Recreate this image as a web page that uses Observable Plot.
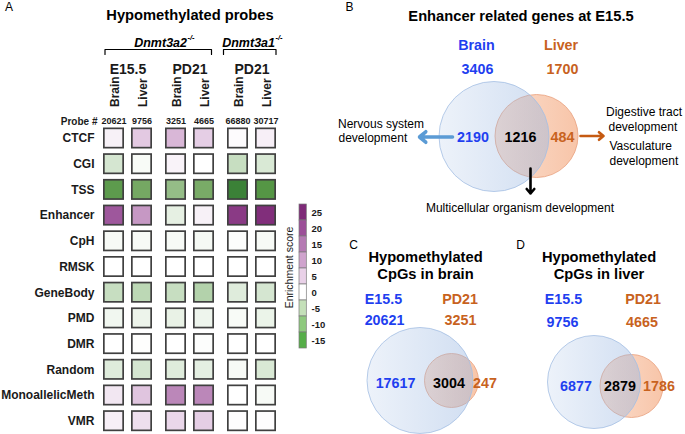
<!DOCTYPE html>
<html><head><meta charset="utf-8">
<script src="https://cdn.jsdelivr.net/npm/d3@7"></script>
<script src="https://cdn.jsdelivr.net/npm/@observablehq/plot@0.6"></script>
<style>
html,body{margin:0;padding:0;background:#fff;}
#root{position:relative;width:685px;height:434px;overflow:hidden;font-family:"Liberation Sans",Arial,Helvetica,sans-serif;}
#root > svg{position:absolute;}
</style></head><body><div id="root"></div>
<script>
// ---------------- DATA ----------------
const rows = ["CTCF","CGI","TSS","Enhancer","CpH","RMSK","GeneBody","PMD","DMR","Random","MonoallelicMeth","VMR"];
const tissues = ["Brain","Liver","Brain","Liver","Brain","Liver"];
const columnGroup = [0,0,1,1,2,2];
const groupLabels = ["E15.5","PD21","PD21"];
const probes = [20621, 9756, 3251, 4665, 66880, 30717];
const genotypes = ["Dnmt3a2", "Dnmt3a1"];
const genotypeSup = "-/-";
const sCTCF     = [1.8, 6.5, 8.5, 6, 0.5, 2];
const sCGI      = [-3, -0.5, 1.5, 0, -4, -2.7];
const sTSS      = [-14, -11, -8, -10.5, -19, -15];
const sEnhancer = [19.5, 12, -1.8, 1.8, 23, 24.5];
const sCpH      = [-0.6, -0.6, -0.6, -0.7, -0.2, -0.6];
const sRMSK     = [0, 0, 0, 0, 0, 0];
const sGeneBody = [-4, -4.8, -4, -5.5, -2.3, -3];
const sPMD      = [-1, -1.3, -1.6, -1.2, -0.5, -1.4];
const sDMR      = [0, -0.1, 0, -0.2, 0, 0];
const sRandom   = [-2.3, -3, -2.3, -1.9, -0.6, -2.7];
const sMono     = [3, 7, 14, 14, 0, -0.6];
const sVMR      = [2, 4, 5, 6, 0.2, 0.2];
const scoreRows = [sCTCF,sCGI,sTSS,sEnhancer,sCpH,sRMSK,sGeneBody,sPMD,sDMR,sRandom,sMono,sVMR];

const colorStops = [-20,-15,-10,-5,0,5,10,15,20,25];
const colorRange = ["#347c34","#559645","#7dad6b","#b9d6b2","#ffffff","#ead7ea","#d1a9cf","#b57fb4","#9b5299","#7e2a78"];
const legendTicks = ["25","20","15","10","5","0","-5","-10","-15"];
const legendColors = ["#7e2a78","#9c4f98","#b57ab3","#cfa3cd","#e9d1e8","#ffffff","#c4e0b9","#8ec97e","#55ad48"];

const vennTitles = [["Enhancer related genes at E15.5"], ["Hypomethylated","CpGs in brain"], ["Hypomethylated","CpGs in liver"]];
const vennLetters = ["B","C","D"];
const vennSetA = ["Brain","E15.5","E15.5"];
const vennSetB = ["Liver","PD21","PD21"];
const vennTotalA = [3406, 20621, 9756];
const vennTotalB = [1700, 3251, 4665];
const vennOnlyA = [2190, 17617, 6877];
const vennBoth = [1216, 3004, 2879];
const vennOnlyB = [484, 247, 1786];
const termsA = ["Nervous system","development"];
const termsB = ["Digestive tract","development","Vasculature","development"];
const termsBoth = ["Multicellular organism development"];

// ---------------- LAYOUT (pixels / styles) ----------------
const FONT = '"Liberation Sans", Arial, Helvetica, sans-serif';
const BLUE = "#1f3ff0", ORANGE = "#c8621e";
const HEAT = {w:340, h:434, left:99.5, right:60.5, top:125.15, bottom:0.45, gap:0.2143};
const LEG = {x:290, y:195, w:45, h:160, left:9, right:28.7, top:9, bottom:7};
const VL = [
  {letter:[349,7], title:[[520.5,15.5]], names:[[476,44.5],[560.5,44.5]], tots:[[477,68.5],[562,68.5]],
   cA:[493.5,136,55], cB:[536,135.5,41.5], nums:[[472.5,136.5],[520,137],[562,136.5]]},
  {letter:[353,245], title:[[425,257],[425,273.5]], names:[[383,299],[459.5,299]], tots:[[384,320],[460,320]],
   cA:[419.5,380,53], cB:[451,380,27], nums:[[395,382.5],[448.5,382.5],[484.5,382.5]]},
  {letter:[520,245], title:[[598.5,257],[598.5,273.5]], names:[[563,299],[642.5,299]], tots:[[562,322],[641.5,322]],
   cA:[593.5,381.5,46.5], cB:[631,385.5,31.5], nums:[[575.5,385.5],[619.5,385.5],[658.5,385.5]]}
];

const root = document.getElementById("root");

// ---------------- PANEL A: heatmap ----------------
const colPos = tissues.map((t, i) => i + columnGroup[i] * HEAT.gap);
const cols = tissues.map((t, i) => ({pos: colPos[i], tissue: t, probe: probes[i]}));
const cells = rows.flatMap((r, ri) => scoreRows[ri].map((v, ci) => ({row: r, x1: colPos[ci] - 0.5, x2: colPos[ci] + 0.5, value: v})));
const groupCenters = groupLabels.map((g, gi) => ({label: g, x: d3.mean(colPos.filter((p, i) => columnGroup[i] === gi))}));

const heat = Plot.plot({
  width: HEAT.w, height: HEAT.h,
  marginLeft: HEAT.left, marginRight: HEAT.right, marginTop: HEAT.top, marginBottom: HEAT.bottom,
  style: {fontFamily: FONT, background: "transparent", color: "#1a1a1a", overflow: "visible"},
  x: {domain: [-0.5, colPos[colPos.length - 1] + 0.5], axis: null},
  y: {domain: rows, axis: null, padding: 0, round: false},
  color: {type: "linear", domain: colorStops, range: colorRange},
  marks: [
    Plot.barX(cells, {x1: "x1", x2: "x2", y: "row", fill: "value", stroke: "#404040", strokeWidth: 1.7,
      insetLeft: 4.35, insetRight: 4.35, insetTop: 3.2, insetBottom: 3.2}),
    Plot.text(rows, {y: d => d, text: d => d, frameAnchor: "left", textAnchor: "end", dx: -5.5, fontSize: 12, fontWeight: "bold"}),
    Plot.text(cols, {x: "pos", text: "tissue", frameAnchor: "top", rotate: -90, textAnchor: "start", lineAnchor: "middle", dx: 1, dy: -18.65, fontSize: 12, fontWeight: "bold"}),
    Plot.text(cols, {x: "pos", text: d => String(d.probe), frameAnchor: "top", dy: -7.65, fontSize: 9, fontWeight: "bold"}),
    Plot.text(["Probe #"], {text: d => d, frameAnchor: "top-left", textAnchor: "end", dx: -2.5, dy: -7.65, fontSize: 10, fontWeight: "bold"}),
    Plot.text(groupCenters, {x: "x", text: "label", frameAnchor: "top", dy: -61.15, fontSize: 14, fontWeight: "bold"})
  ]
});
heat.style.left = "0px"; heat.style.top = "0px";
root.appendChild(heat);

// ---------------- legend ----------------
const legend = Plot.plot({
  width: LEG.w, height: LEG.h, marginLeft: LEG.left, marginRight: LEG.right, marginTop: LEG.top, marginBottom: LEG.bottom,
  style: {fontFamily: FONT, background: "transparent", color: "#1a1a1a", overflow: "visible"},
  x: {domain: [0, 1], axis: null},
  y: {domain: legendTicks, axis: null, padding: 0, round: false},
  color: {type: "identity"},
  marks: [
    Plot.barX(legendTicks.map((l, i) => ({l, c: legendColors[i]})), {x1: () => 0, x2: () => 1, y: "l", fill: "c", stroke: "#7a7a7a", strokeWidth: 0.7}),
    Plot.text(legendTicks, {y: d => d, text: d => d, frameAnchor: "right", textAnchor: "start", dx: 4.7, fontSize: 9.5, fontWeight: "bold"})
  ]
});
legend.style.left = LEG.x + "px"; legend.style.top = LEG.y + "px";
root.appendChild(legend);

// ---------------- overlay: titles, venns, arrows ----------------
const T = [];
const add = (x, y, t, o = {}) => T.push({x, y, t, c: o.c || "#000", s: o.s || 12, w: o.w || "normal", a: o.a || "middle", r: o.r || 0, i: o.i || false});
// panel A texts
add(8.5, 7, "A", {s: 12});
add(189.5, 15, "Hypomethylated probes", {s: 14.7, w: "bold"});
add(186.5, 42, genotypes[0], {s: 12.5, w: "bold", a: "end", i: true});
add(187, 37.5, genotypeSup, {s: 7.5, w: "bold", a: "start", i: true});
add(274.5, 42, genotypes[1], {s: 12.5, w: "bold", a: "end", i: true});
add(275, 37.5, genotypeSup, {s: 7.5, w: "bold", a: "start", i: true});
add(289.5, 267, "Enrichment score", {s: 10.5, r: -90, c: "#1a1a1a"});
// venn texts
VL.forEach((L, k) => {
  add(L.letter[0], L.letter[1], vennLetters[k], {s: 12});
  vennTitles[k].forEach((t, j) => add(L.title[j][0], L.title[j][1], t, {s: 14.7, w: "bold"}));
  add(L.names[0][0], L.names[0][1], vennSetA[k], {s: 14.3, w: "bold", c: BLUE});
  add(L.names[1][0], L.names[1][1], vennSetB[k], {s: 14.3, w: "bold", c: ORANGE});
  add(L.tots[0][0], L.tots[0][1], String(vennTotalA[k]), {s: 14.3, w: "bold", c: BLUE});
  add(L.tots[1][0], L.tots[1][1], String(vennTotalB[k]), {s: 14.3, w: "bold", c: ORANGE});
  add(L.nums[0][0], L.nums[0][1], String(vennOnlyA[k]), {s: 14.3, w: "bold", c: BLUE});
  add(L.nums[1][0], L.nums[1][1], String(vennBoth[k]), {s: 14.3, w: "bold", c: "#000"});
  add(L.nums[2][0], L.nums[2][1], String(vennOnlyB[k]), {s: 14.3, w: "bold", c: ORANGE});
});
add(337.5, 123.5, termsA[0], {a: "start"});
add(338, 138, termsA[1], {a: "start"});
add(605.5, 112, termsB[0], {a: "start"});
add(608, 127, termsB[1], {a: "start"});
add(609, 146, termsB[2], {a: "start"});
add(609, 160.5, termsB[3], {a: "start"});
add(519.5, 208, termsBoth[0], {});

const brackets = [
  {id: 0, x: 104.5, y: 54}, {id: 0, x: 104.5, y: 49}, {id: 0, x: 211, y: 49}, {id: 0, x: 211, y: 54},
  {id: 1, x: 223, y: 54}, {id: 1, x: 223, y: 49}, {id: 1, x: 275.5, y: 49}, {id: 1, x: 275.5, y: 54}
];
const arrows = [
  {x1: 452, y1: 136.5, x2: 419, y2: 136.5, c: "#5b9bd5", w: 3.6},
  {x1: 580, y1: 135.5, x2: 603, y2: 135.5, c: "#c55a11", w: 2.6},
  {x1: 530, y1: 168, x2: 530, y2: 193, c: "#000", w: 2.6}
];

const marks = [];
VL.forEach(L => marks.push(Plot.dot([{x: L.cB[0], y: L.cB[1]}], {x: "x", y: "y", r: L.cB[2], fill: "#fe0001", stroke: "#e9a07c", strokeWidth: 0.8})));
VL.forEach(L => marks.push(Plot.dot([{x: L.cA[0], y: L.cA[1]}], {x: "x", y: "y", r: L.cA[2], fill: "#0001fe", stroke: "#a4bfe3", strokeWidth: 0.8})));
marks.push(Plot.line(brackets, {x: "x", y: "y", z: "id", stroke: "#000", strokeWidth: 1.2}));
arrows.forEach(a => marks.push(Plot.arrow([a], {x1: "x1", y1: "y1", x2: "x2", y2: "y2", stroke: a.c, strokeWidth: a.w, headLength: 3.4, headAngle: 80})));
T.forEach(e => marks.push(Plot.text([e], {x: "x", y: "y", text: "t", fill: e.c, fontSize: e.s, fontWeight: e.w, textAnchor: e.a, rotate: e.r, fontStyle: e.i ? "italic" : "normal", fontFamily: FONT})));

const over = Plot.plot({
  width: 685, height: 434, margin: 0,
  style: {fontFamily: FONT, background: "transparent", overflow: "visible"},
  x: {domain: [0, 685], range: [0, 685], axis: null},
  y: {domain: [0, 434], range: [0, 434], axis: null},
  marks
});
over.style.left = "0px"; over.style.top = "0px";
const defs = d3.select(over).insert("defs", ":first-child");
const gb = defs.append("linearGradient").attr("id", "gBlue").attr("x1", 0).attr("x2", 1).attr("y1", 0).attr("y2", 0);
gb.append("stop").attr("offset", 0).attr("stop-color", "#9bb8e2").attr("stop-opacity", 0.18);
gb.append("stop").attr("offset", 1).attr("stop-color", "#9bb8e2").attr("stop-opacity", 0.46);
const go = defs.append("linearGradient").attr("id", "gOrange").attr("x1", 0).attr("x2", 1).attr("y1", 0).attr("y2", 0);
go.append("stop").attr("offset", 0).attr("stop-color", "#f4a77c").attr("stop-opacity", 0.38);
go.append("stop").attr("offset", 1).attr("stop-color", "#f4a77c").attr("stop-opacity", 0.66);
d3.select(over).selectAll('[fill="#0001fe"]').attr("fill", "url(#gBlue)");
d3.select(over).selectAll('[fill="#fe0001"]').attr("fill", "url(#gOrange)");
root.appendChild(over);
</script></body></html>
